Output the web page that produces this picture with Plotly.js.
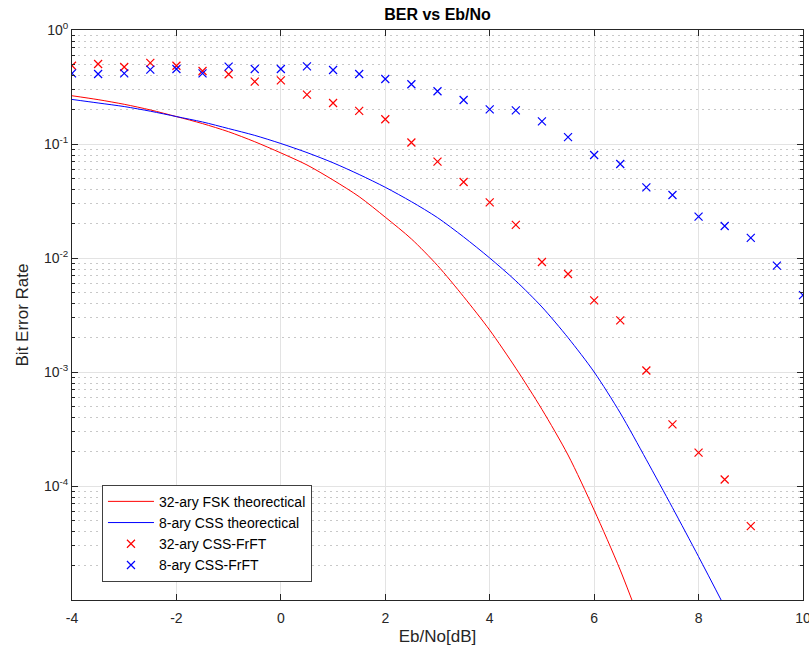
<!DOCTYPE html>
<html>
<head>
<meta charset="utf-8">
<script src="https://cdn.plot.ly/plotly-3.0.1.min.js"></script>
<style>body{margin:0;padding:0;background:#fff}#chart{width:809px;height:653px}</style>
</head>
<body>
<div id="chart"></div>
<script>
// Theoretical curves
const ebnoTheory32 = [-4,-3.5,-3,-2.5,-2,-1.5,-1,-0.5,0,0.5,1,1.5,2,2.5,3,3.5,4,4.5,5,5.5,6,6.5,7];
const berFsk32 = [0.265,0.245,0.223,0.199,0.174,0.151,0.128,0.1047,0.0835,0.0655,0.0483,0.0345,0.0228,0.0147,0.0086,0.00458,0.00233,0.00108,0.00047,0.000187,0.0000615,0.0000183,0.0000046];
const ebnoTheory8 = [-4,-3.5,-3,-2.5,-2,-1.5,-1,-0.5,0,0.5,1,1.5,2,2.5,3,3.5,4,4.5,5,5.5,6,6.5,7,7.5,8,8.5];
const berCss8 = [0.246,0.229,0.213,0.194,0.174,0.156,0.1365,0.119,0.101,0.0841,0.0684,0.054,0.0417,0.0312,0.0226,0.0153,0.0100,0.0063,0.00372,0.0020,0.0010,0.000437,0.000170,0.0000646,0.0000240,0.0000087];

// Simulated points
const ebnoSim32 = [-4,-3.5,-3,-2.5,-2,-1.5,-1,-0.5,0,0.5,1,1.5,2,2.5,3,3.5,4,4.5,5,5.5,6,6.5,7,7.5,8,8.5,9];
const berFrft32 = [0.486,0.503,0.474,0.514,0.486,0.437,0.409,0.352,0.362,0.271,0.229,0.195,0.165,0.103,0.070,0.0464,0.0308,0.0195,0.00922,0.00724,0.00425,0.00284,0.00103,0.000347,0.000196,0.000114,0.0000445];
const ebnoSim8 = [-4,-3.5,-3,-2.5,-2,-1.5,-1,-0.5,0,0.5,1,1.5,2,2.5,3,3.5,4,4.5,5,5.5,6,6.5,7,7.5,8,8.5,9,9.5,10];
const berFrft8 = [0.417,0.411,0.417,0.449,0.455,0.417,0.477,0.455,0.455,0.480,0.446,0.411,0.372,0.334,0.290,0.243,0.201,0.197,0.158,0.115,0.0801,0.0668,0.0417,0.0357,0.0231,0.0191,0.0150,0.00857,0.00473];

const xTicks = [-4,-2,0,2,4,6,8,10];
const yTickVals = [1e-4,1e-3,1e-2,1e-1,1];
const yTickText = ['10<sup>-4</sup>','10<sup>-3</sup>','10<sup>-2</sup>','10<sup>-1</sup>','10<sup>0</sup>'];
const legendNames = ['32-ary FSK theorectical','8-ary CSS theorectical','32-ary CSS-FrFT','8-ary CSS-FrFT'];

const minorVals = [];
for (let e = -5; e <= -1; e++) for (let k = 2; k <= 9; k++) minorVals.push(k * Math.pow(10, e));

const axisColor = '#262626';
const data = [
  {x: ebnoTheory32, y: berFsk32, name: legendNames[0], mode: 'lines', line: {color: '#ff0000', width: 1, shape: 'spline', smoothing: 0.8}},
  {x: ebnoTheory8, y: berCss8, name: legendNames[1], mode: 'lines', line: {color: '#0000ff', width: 1, shape: 'spline', smoothing: 0.8}},
  {x: ebnoSim32, y: berFrft32, name: legendNames[2], mode: 'markers',
   marker: {symbol: 'x-thin', size: 8, color: '#ff0000', line: {color: '#ff0000', width: 1.2}}},
  {x: ebnoSim8, y: berFrft8, name: legendNames[3], mode: 'markers',
   marker: {symbol: 'x-thin', size: 8, color: '#0000ff', line: {color: '#0000ff', width: 1.2}}}
];

const layout = {
  width: 809, height: 653,
  margin: {l: 72, r: 6, t: 30, b: 53},
  paper_bgcolor: '#ffffff', plot_bgcolor: '#ffffff',
  font: {family: 'Liberation Sans, Arial, sans-serif', size: 14, color: axisColor},
  title: {text: '<b>BER vs Eb/No</b>', x: 0.5, xref: 'paper', xanchor: 'center',
          y: 0.978, yref: 'container', yanchor: 'middle', font: {size: 16, color: '#000'}},
  xaxis: {
    range: [-4, 10], tickvals: xTicks, ticktext: xTicks.map(String),
    showline: true, linecolor: axisColor, linewidth: 1, mirror: 'ticks',
    ticks: 'inside', ticklen: 6, tickcolor: axisColor,
    showgrid: true, gridcolor: '#e3e3e3', gridwidth: 1, zeroline: false,
    ticklabeloverflow: 'allow', ticklabelstandoff: 5,
    title: {text: 'Eb/No[dB]', standoff: 5, font: {size: 17}},
    tickfont: {size: 14}
  },
  yaxis: {
    type: 'log', range: [-5, 0], tickvals: yTickVals, ticktext: yTickText,
    showline: true, linecolor: axisColor, linewidth: 1, mirror: 'ticks',
    ticks: 'inside', ticklen: 6, tickcolor: axisColor,
    showgrid: true, gridcolor: '#e3e3e3', gridwidth: 1, zeroline: false,
    minor: {tickvals: minorVals, ticks: 'inside', ticklen: 3, tickcolor: axisColor,
            showgrid: true, gridcolor: '#c8c8c8', griddash: '2px,4px', gridwidth: 1},
    title: {text: 'Bit Error Rate', standoff: 10, font: {size: 17}},
    tickfont: {size: 14}
  },
  yaxis2: {
    type: 'log', range: [-5, 0], overlaying: 'y', side: 'right', anchor: 'x',
    showticklabels: false, showline: false, showgrid: false, zeroline: false,
    tickvals: yTickVals, ticks: 'inside', ticklen: 6, tickcolor: axisColor,
    minor: {tickvals: minorVals, ticks: 'inside', ticklen: 3, tickcolor: axisColor, showgrid: false}
  },
  showlegend: true,
  legend: {x: 0.041, y: 0.032, xanchor: 'left', yanchor: 'bottom',
           bgcolor: '#ffffff', bordercolor: '#404040', borderwidth: 1,
           itemwidth: 46,
           font: {size: 14, color: '#000'}, tracegroupgap: 0}
};

Plotly.newPlot('chart', data, layout, {displayModeBar: false, staticPlot: true});
</script>
</body>
</html>
